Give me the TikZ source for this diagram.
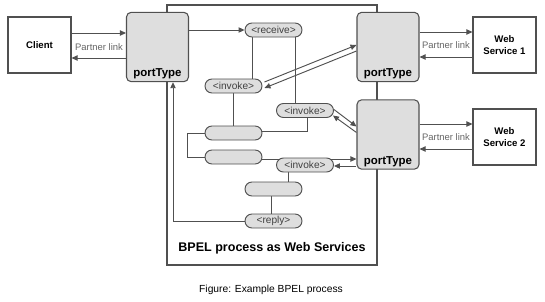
\documentclass[tikz,border=0pt]{standalone}
\usepackage{fontspec}
\setmainfont{Liberation Sans}
\usetikzlibrary{calc,arrows.meta,positioning}
\pgfdeclarelayer{bg}
\pgfsetlayers{bg,main}
\definecolor{edge}{HTML}{505050}
\definecolor{nodefill}{HTML}{DEDEDE}
\definecolor{linkgray}{HTML}{666666}
\tikzset{
  x=0.75pt,y=-0.75pt,
  box/.style={draw=edge,line width=0.8pt,fill=white,minimum width=47.25pt,minimum height=42pt,inner sep=0pt,align=center,font=\fontsize{7.2}{8.8}\selectfont\bfseries},
  port/.style={draw=edge,line width=0.8pt,fill=nodefill,rounded corners=3.5pt,minimum width=46.5pt,minimum height=52pt,inner sep=0pt},
  porttext/.style={font=\fontsize{8.6}{10}\selectfont\bfseries,inner sep=0pt,anchor=base,yshift=4.1pt},
  act/.style={draw=edge,line width=0.7pt,fill=nodefill,rounded corners=5.2pt,minimum width=42.75pt,minimum height=10.5pt,inner sep=0pt,font=\fontsize{7.6}{8.5}\selectfont,text=black!75},
  conn/.style={draw=edge,line width=0.7pt},
  arr/.style={conn,-{Triangle[length=4.5pt,width=4pt]}},
  plink/.style={font=\fontsize{7.1}{8}\selectfont,text=linkgray},
}
\begin{document}
\begin{tikzpicture}
\useasboundingbox (0,0) rectangle (545,301);
% BPEL process box
\draw[edge,line width=0.8pt] (167,5) rectangle (377,265);
\node[font=\fontsize{9.4}{11}\selectfont\bfseries] (bpeltext) at (272,248) {BPEL process as Web Services};
\node[font=\fontsize{7.7}{9}\selectfont] (caption) at (271,290) {Figure: Example BPEL process};

% outer boxes
\node[box] (client) at (39.5,45) {Client};
\node[box] (ws1) at (504.5,45) {Web\\Service 1};
\node[box] (ws2) at (504.5,137) {Web\\Service 2};

% portTypes
\node[port,label={[porttext]south:portType}] (pt1) at (157.5,47) {};
\node[port,label={[porttext]south:portType}] (pt2) at (388,47) {};
\node[port,label={[porttext]south:portType}] (pt3) at (388,134.5) {};

% activities
\node[act] (receive) at (273.5,30) {<receive>};
\node[act] (inv1) at (233.5,86) {<invoke>};
\node[act] (inv2) at (305,110.5) {<invoke>};
\node[act] (actA) at (233.5,133) {};
\node[act] (actB) at (233.5,157) {};
\node[act] (inv3) at (305,165) {<invoke>};
\node[act] (actC) at (273.5,189) {};
\node[act] (reply) at (273.5,221) {<reply>};

% partner links
\draw[arr] ($(client.east)+(0,-12)$) -- ($(pt1.west)+(0,-14)$);
\draw[arr] ($(pt1.west)+(0,11)$) -- ($(client.east)+(0,13)$);
\node[plink] (pl1) at (99,47) {Partner link};
\draw[arr] ($(pt2.east)+(0,-15)$) -- ($(ws1.west)+(0,-13)$);
\draw[arr] ($(ws1.west)+(0,12)$) -- ($(pt2.east)+(0,10)$);
\node[plink] (pl2) at (446,45) {Partner link};
\draw[arr] ($(pt3.east)+(0,-10.5)$) -- ($(ws2.west)+(0,-13)$);
\draw[arr] ($(ws2.west)+(0,12)$) -- ($(pt3.east)+(0,14.5)$);
\node[plink] (pl3) at (446,137) {Partner link};

% process connectors
\draw[arr] ($(pt1.east)+(0,-17)$) -- (receive.west);
\begin{pgfonlayer}{bg}
\draw[conn] ($(receive.south)+(-21.5,0)$) -- ($(inv1.north)+(18.5,0)$);
\draw[conn] ($(receive.south)+(21.5,0)$) -- ($(inv2.north)+(-10,0)$);
\draw[conn] (inv1.south) -- (actA.north);
\draw[conn] ($(inv2.south)+(2,0)$) |- ($(actA.east)+(0,-1.5)$);
\draw[conn] (actA.west) -- ++(-17,0) |- (actB.west);
\draw[arr] ($(actB.east)+(0,2)$) -- ($(actB.east -| pt3.west)+(0,2)$);
\draw[conn] ($(inv3.south)+(-17,0)$) -- ($(actC.north)+(14.5,0)$);
\draw[conn] ($(actC.south)+(-2.5,0)$) -- ($(reply.north)+(-2.5,0)$);
\end{pgfonlayer}
\draw[arr] ($(pt3.west)+(0,31.5)$) -- ($(inv3.east)+(0,1)$);
\draw[arr] (reply.west) -| ($(pt1.south)+(15.5,0)$);
% diagonal invoke links
\draw[arr] ($(inv1.east)+(2,-4)$) -- ($(pt2.west)+(0,-2)$);
\draw[arr] ($(pt2.west)+(0,4)$) -- ($(inv1.east)+(2,2)$);
\draw[arr] ($(inv2.east)+(0,-1)$) -- ($(pt3.west)+(0,-8)$);
\draw[arr] ($(pt3.west)+(0,-2)$) -- ($(inv2.east)+(-1,5)$);
\end{tikzpicture}
\end{document}
